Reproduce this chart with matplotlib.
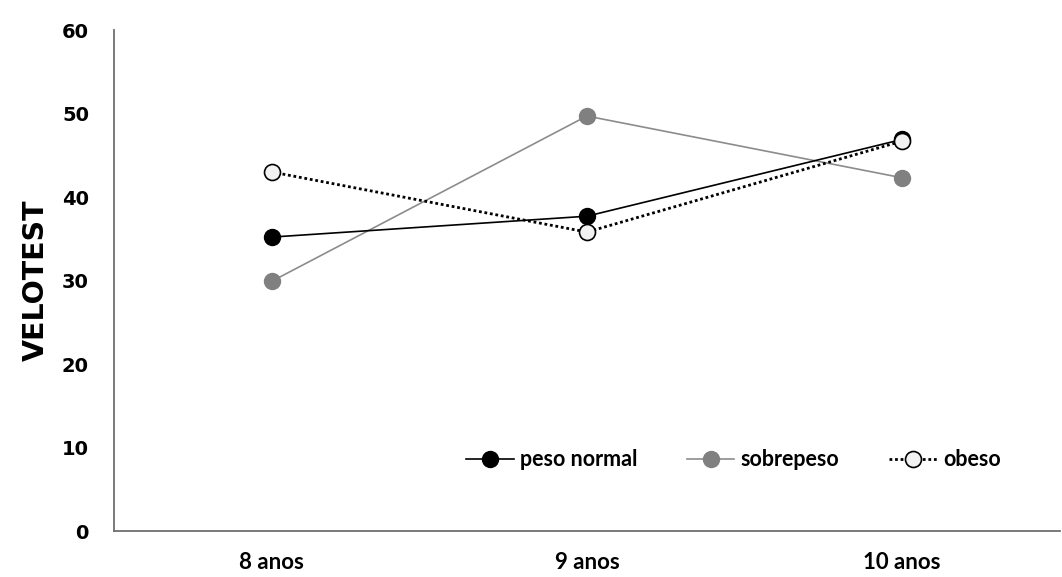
import matplotlib.pyplot as plt

# Data
categories = ['8 anos', '9 anos', '10 anos']
peso_normal = [35.2, 37.7, 46.9]
sobrepeso = [29.9, 49.7, 42.3]
obeso = [43.0, 35.8, 46.7]

plt.rcParams['font.family'] = ['Lato', 'DejaVu Sans']

fig = plt.figure(figsize=(10.62, 5.77), dpi=100)
ax = fig.add_axes([0.1073, 0.0797, 0.8907, 0.8683])

x = range(len(categories))
ax.plot(x, peso_normal, color='black', lw=1.2, marker='o', ms=11.5,
        mfc='black', mec='black', label='peso normal', zorder=3)
ax.plot(x, sobrepeso, color='#8c8c8c', lw=1.2, marker='o', ms=11.5,
        mfc='#808080', mec='#808080', label='sobrepeso', zorder=2)
ax.plot(x, obeso, color='black', lw=2, ls=(0, (1, 1)), marker='o', ms=11.5,
        mfc='#f2f2f2', mec='black', mew=1.2, label='obeso', zorder=4)

ax.set_xlim(-0.5, 2.5)
ax.set_ylim(0, 60)
ax.set_yticks(range(0, 61, 10))
ax.set_xticks(list(x))
ax.set_xticklabels(categories)

for s in ['top', 'right']:
    ax.spines[s].set_visible(False)
for s in ['left', 'bottom']:
    ax.spines[s].set_color('#707070')
    ax.spines[s].set_linewidth(1.3)

ax.tick_params(axis='y', length=0, pad=18, labelsize=14)
ax.tick_params(axis='x', length=0, pad=15, labelsize=16)
for lbl in ax.get_yticklabels() + ax.get_xticklabels():
    lbl.set_fontweight('bold')
for lbl in ax.get_yticklabels():
    lbl.set_family(['DejaVu Sans'])

ax.set_ylabel('VELOTEST', fontsize=20.5, fontweight='bold',
              family=['DejaVu Sans'], labelpad=9)

leg = ax.legend(ncol=3, loc='center', bbox_to_anchor=(0.655, 0.142),
                frameon=False, handlelength=2.2, handletextpad=0.3,
                columnspacing=2.3, prop={'weight': 'bold', 'size': 15.5})

fig.savefig('out.png', dpi=100)
